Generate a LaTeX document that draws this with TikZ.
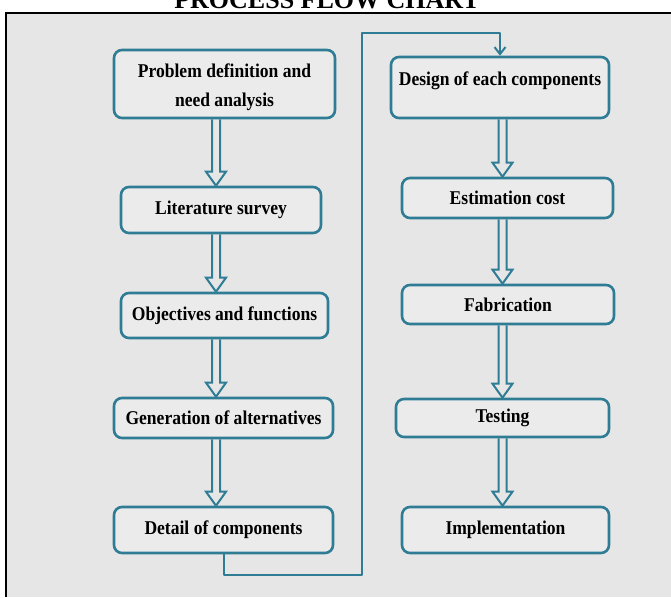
\documentclass[tikz,border=0pt]{standalone}
\usepackage{fontspec}
\setmainfont{Liberation Serif}
\newfontfamily\stagefont[FakeStretch=0.9]{Liberation Serif}
\usepackage{tikz}
\usetikzlibrary{calc}
\usetikzlibrary{arrows.meta}
\definecolor{flowteal}{HTML}{2F7C95}
\definecolor{panelgrey}{HTML}{E6E6E6}
\definecolor{boxgrey}{HTML}{EBEBEB}
\tikzset{stagebox/.style={rectangle, rounded corners=8pt, draw=flowteal, line width=2.6pt, fill=boxgrey, font=\stagefont\fontsize{19.5}{22}\selectfont\bfseries, align=center, inner sep=2pt}}
\tikzset{hollow/.style={draw=flowteal, line width=2pt, line join=miter}}
\tikzset{link/.style={draw=flowteal, line width=2pt, line join=round}}
\newcommand{\flowarrow}[3]{%
  \draw[hollow] ($(#1.south -| #3)+(-4,0)$) -- ($(#2.north -| #3)+(-4,-14)$)
    -- ++(-6,0) -- (#2.north -| #3) -- ($(#2.north -| #3)+(10,-14)$)
    -- ++(-6,0) -- ($(#1.south -| #3)+(4,0)$);%
}

\begin{document}
\begin{tikzpicture}[x=1pt,y=-1pt]
  \useasboundingbox (0,0) rectangle (671,597);
  \fill[panelgrey] (6,13) rectangle (671,597);
  \draw[black, line width=2pt] (671,13) -| (6,597);
  \node[font=\fontsize{26}{30}\selectfont\bfseries, anchor=base] (title) at (327,8.5) {PROCESS FLOW CHART};
  \foreach \x/\y/\w/\h/\lab/\txt in {
    224.5/84/221/68/prob/{\rule{0pt}{21pt}Problem definition and\\[7pt] need analysis},
    221/210/200/46/lit/{Literature survey},
    224.5/315.5/207/45/obj/{Objectives and functions},
    223.5/418/219/40/gen/{Generation of alternatives},
    223.5/530/219/46/det/{Detail of components},
    507.5/198/211/40/est/{Estimation cost},
    508/304.5/212/39/fab/{Fabrication},
    502.5/418/213/38/test/{Testing},
    505.5/530/207/46/impl/{Implementation}%
  } {
    \node[stagebox, minimum width=\w, minimum height=\h] (\lab) at (\x, \y) {\txt};
  }
  \node[stagebox, minimum width=218, minimum height=61, text depth=17pt] (design) at (500, 87.5) {Design of each components};
  \coordinate (lcol) at (216,0);
  \coordinate (rcol) at (502.5,0);
  \foreach \u/\v/\c in {
    prob/lit/lcol,
    lit/obj/lcol,
    obj/gen/lcol,
    gen/det/lcol,
    design/est/rcol,
    est/fab/rcol,
    fab/test/rcol,
    test/impl/rcol%
  }{
    \flowarrow{\u}{\v}{\c}
  }
  \coordinate (loopbot) at (362,575);
  \coordinate (looptop) at (362,33);
  \draw[link, -{Straight Barb[length=7pt,width=11pt]}] (det.south) |- (loopbot) -- (looptop) -| (design.north);
\end{tikzpicture}
\end{document}
